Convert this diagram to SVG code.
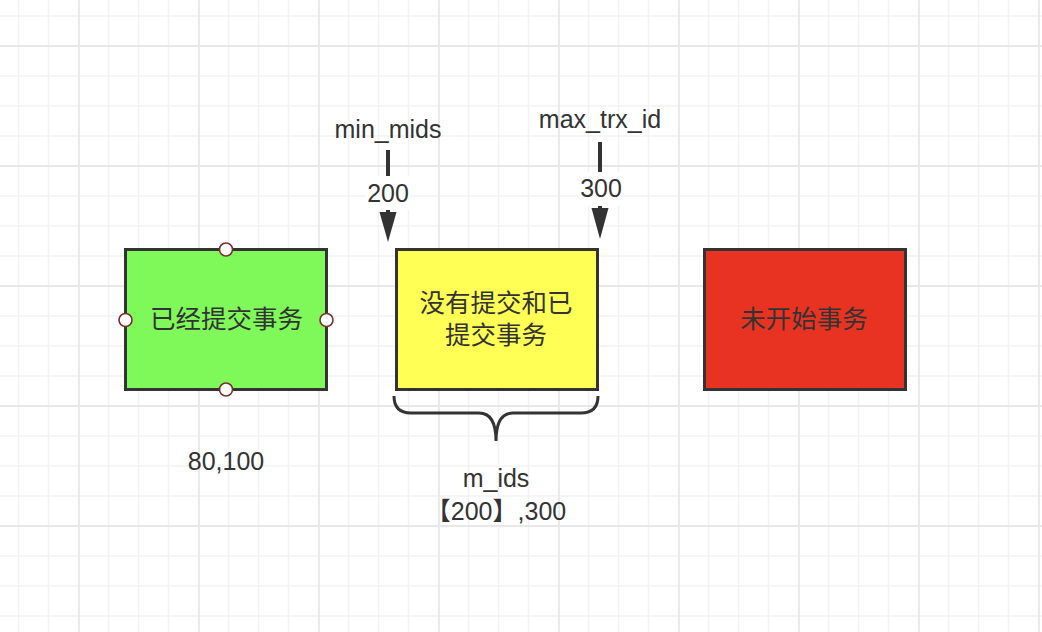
<svg xmlns="http://www.w3.org/2000/svg" width="1042" height="632" viewBox="0 0 1042 632">
<defs>
<pattern id="minor" x="0" y="0" width="30" height="30" patternUnits="userSpaceOnUse">
<path d="M18.5 0V30M0 16H30" stroke="#f2f2f2" stroke-width="1.5" fill="none"/>
</pattern>
<pattern id="major" x="0" y="0" width="120" height="120" patternUnits="userSpaceOnUse">
<path d="M79 0V120M0 46H120" stroke="#e8e8e8" stroke-width="1.8" fill="none"/>
</pattern>
</defs>
<style>
.box{stroke:#333;stroke-width:3}
.cjk{font-family:"Noto Sans CJK SC","Noto Sans",sans-serif;font-size:25.5px;fill:#333;text-anchor:middle}
.lat{font-family:"Liberation Sans",Arial,sans-serif;font-size:25px;fill:#333;text-anchor:middle}
.handle{fill:#fff;stroke:#7a2e2e;stroke-width:1.6}
.edge{stroke:#333;stroke-width:4;fill:none}
.head{fill:#333}
.lbg{fill:#fff}
</style>
<rect width="1042" height="632" fill="#fff"/>
<rect width="1042" height="632" fill="url(#minor)"/>
<rect width="1042" height="632" fill="url(#major)"/>

<g id="connectors">
<g id="edge-min">
<line class="edge" x1="388" y1="150" x2="388" y2="214"/>
<polygon class="head" points="379.5,212 396.5,212 388,242"/>
<rect class="lbg" x="366" y="176" width="44" height="34"/>
<text class="lat" x="388" y="202">200</text>
</g>
<g id="edge-max">
<line class="edge" x1="600" y1="142" x2="600" y2="210"/>
<polygon class="head" points="591.5,208 608.5,208 600,239"/>
<rect class="lbg" x="578" y="172" width="44" height="34"/>
<text class="lat" x="601" y="197">300</text>
</g>
</g>

<g id="label-min">
<text class="lat" x="388" y="138">min_mids</text>
</g>
<g id="label-max">
<text class="lat" x="600" y="128">max_trx_id</text>
</g>

<g id="committed">
<rect class="box" x="125.5" y="249.5" width="201" height="140" fill="#7ff95a"/>
<text class="cjk" x="226.5" y="328">已经提交事务</text>
<circle class="handle" cx="226" cy="249.5" r="6.5"/>
<circle class="handle" cx="125.5" cy="320" r="6.5"/>
<circle class="handle" cx="326.5" cy="320" r="6.5"/>
<circle class="handle" cx="226" cy="389.5" r="6.5"/>
</g>

<g id="active">
<rect class="box" x="396.5" y="249.5" width="201" height="140" fill="#ffff55"/>
<text class="cjk"><tspan x="496" y="311.5">没有提交和已</tspan><tspan x="496" y="343.5">提交事务</tspan></text>
</g>

<g id="notstarted">
<rect class="box" x="704.5" y="249.5" width="201" height="140" fill="#e83323"/>
<text class="cjk" x="804" y="327.5">未开始事务</text>
</g>

<g id="brace">
<path d="M394 396 Q394 413 411 413 L479 413 Q496 413 496 441 Q496 413 513 413 L581 413 Q598 413 598 396" fill="none" stroke="#333" stroke-width="3"/>
</g>

<g id="label-committed">
<text class="lat" x="226" y="470">80,100</text>
</g>

<g id="label-mids">
<text class="lat" x="496" y="487">m_ids</text>
<text class="lat" x="496" y="520"><tspan font-family="Noto Sans CJK SC, sans-serif">【</tspan>200<tspan font-family="Noto Sans CJK SC, sans-serif">】</tspan>,300</text>
</g>
</svg>
